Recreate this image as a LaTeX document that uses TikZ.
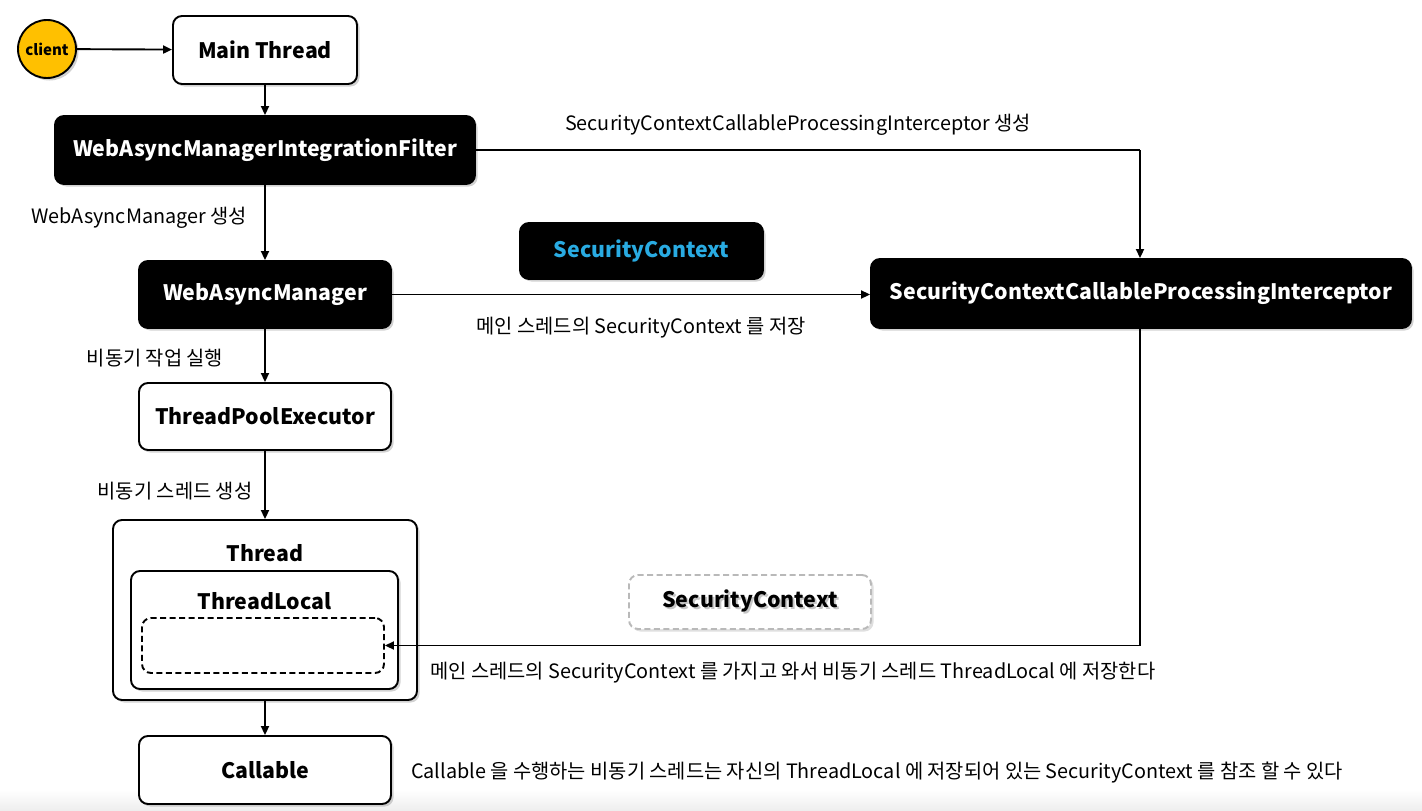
\documentclass[tikz,border=0pt]{standalone}
\usepackage{fontspec}
\setmainfont{Noto Sans CJK KR}
\usetikzlibrary{shadows,arrows.meta}
\definecolor{clientyellow}{HTML}{FFC000}
\definecolor{scblue}{HTML}{29ABE2}
\begin{document}
\begin{tikzpicture}[x=1pt,y=-1pt,
  box/.style={draw=black,line width=1.9pt,rounded corners=9pt,inner sep=0pt,
    drop shadow={shadow xshift=2.5pt,shadow yshift=-2.5pt,opacity=0.35,fill=gray}},
  nfont/.style={font=\fontsize{21.3}{24}\selectfont\bfseries},
  whitebox/.style={box,fill=white,text=black,nfont},
  blackbox/.style={box,fill=black,text=white,nfont},
  lbl/.style={font=\fontsize{19.8}{23}\selectfont,inner sep=0pt},
  arr/.style={-{Triangle[length=9pt,width=8pt]},line width=1.9pt},
  ln/.style={line width=1.9pt},
  dsh/.style={dash pattern=on 6pt off 3.5pt}]
\useasboundingbox (0,0) rectangle (1422,811);
\fill[white] (0,0) rectangle (1422,811);
\shade[top color=white,bottom color=gray!14] (0,790) rectangle (1422,811);

% nodes
\node[circle,draw=black,line width=1.9pt,fill=clientyellow,minimum size=58pt,inner sep=0pt,
  font=\fontsize{15}{17}\selectfont\bfseries,
  drop shadow={shadow xshift=2.5pt,shadow yshift=-2.5pt,opacity=0.35,fill=gray}] (client) at (47,49) {client};
\node[whitebox,minimum width=184pt,minimum height=68pt] (main) at (265,50) {Main Thread};
\node[blackbox,minimum width=420pt,minimum height=68pt] (filter) at (265,150) {WebAsyncManagerIntegrationFilter};
\node[blackbox,minimum width=252pt,minimum height=67pt] (wam) at (265,294.5) {WebAsyncManager};
\node[box,fill=black,text=scblue,nfont,minimum width=243pt,minimum height=56pt] (scblue) at (641.5,251) {SecurityContext};
\node[blackbox,minimum width=540pt,minimum height=69pt] (inter) at (1141,293.5) {SecurityContextCallableProcessingInterceptor};
\node[whitebox,minimum width=252pt,minimum height=67pt] (tpe) at (265,416.5) {ThreadPoolExecutor};
\node[whitebox,minimum width=304pt,minimum height=180pt] (thread) at (265,610) {};
\node[nfont,inner sep=0pt] (threadlbl) at (265,553) {Thread};
\node[whitebox,minimum width=267pt,minimum height=118pt] (tl) at (264.5,630) {};
\node[nfont,inner sep=0pt] (tllbl) at (264.5,601) {ThreadLocal};
\node[draw=black,line width=1.9pt,dsh,rounded corners=9pt,fill=white,minimum width=242pt,minimum height=55pt,inner sep=0pt] (slot) at (263,645.5) {};
\node[draw=gray!55,line width=1.9pt,dsh,rounded corners=9pt,fill=white,minimum width=242pt,minimum height=54pt,inner sep=0pt,
  drop shadow={shadow xshift=2.5pt,shadow yshift=-2.5pt,opacity=0.25,fill=gray}] (scgray) at (750,602) {};
\node[nfont,inner sep=0pt,text=gray!45] (scshadow) at (752,603) {SecurityContext};
\node[nfont,inner sep=0pt] (scgraylbl) at (750,601) {SecurityContext};
\node[whitebox,minimum width=252pt,minimum height=68pt] (callable) at (265,770) {Callable};

% corner coordinates
\coordinate (c1) at (1140,150);
\coordinate (c2) at (1140,645.5);

% connectors
\draw[arr] (client) -- (main);
\draw[arr] (main) -- (filter);
\draw[arr] (filter) -- (wam);
\draw[ln] (filter.east |- c1) -- (c1);
\draw[arr] (c1) -- (c1 |- inter.north);
\draw[arr] (wam.east) -- (inter.west |- wam.east);
\draw[arr] (wam) -- (tpe);
\draw[arr] (tpe) -- (thread);
\draw[ln] (c2 |- inter.south) -- (c2);
\draw[arr] (c2) -- (slot.east);
\draw[arr] (thread) -- (callable);

% labels
\node[lbl] (l1) at (798,125) {SecurityContextCallableProcessingInterceptor 생성};
\node[lbl] (l2) at (139,218) {WebAsyncManager 생성};
\node[lbl] (l3) at (641,328) {메인 스레드의 SecurityContext 를 저장};
\node[lbl] (l4) at (155,358) {비동기 작업 실행};
\node[lbl] (l5) at (175,491) {비동기 스레드 생성};
\node[lbl,anchor=west] (l6) at (430,673) {메인 스레드의 SecurityContext 를 가지고 와서 비동기 스레드 ThreadLocal 에 저장한다};
\node[lbl,anchor=west] (l7) at (411,773) {Callable 을 수행하는 비동기 스레드는 자신의 ThreadLocal 에 저장되어 있는 SecurityContext 를 참조 할 수 있다};
\end{tikzpicture}
\end{document}
